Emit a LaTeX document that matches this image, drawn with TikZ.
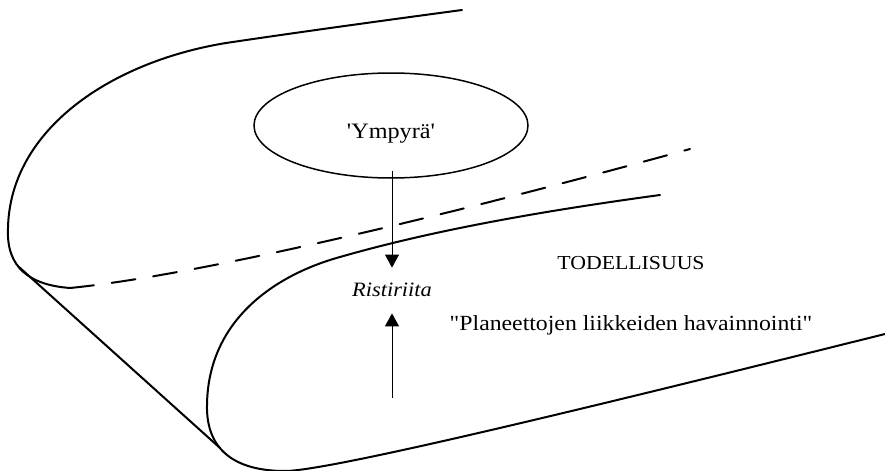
\documentclass[tikz,border=0pt]{standalone}
\usepackage{fontspec}
% straight quotes are kept as typed, so the TeX ligature mapping is switched off
\setmainfont{Liberation Serif}[FakeStretch=1.1, Ligatures=TeXOff]
\usetikzlibrary{arrows.meta,shapes.geometric}

\tikzset{
  edge/.style={line width=1pt, line cap=round, line join=round},
  hidden/.style={edge, dash pattern=on 12pt off 9pt},
  arr/.style={line width=0.5pt, -{Triangle[length=6.5pt,width=7pt]}},
  oval/.style={ellipse, draw, line width=0.75pt, minimum width=137pt, minimum height=52.5pt,
               inner sep=0pt, text height=13pt, text depth=0.2pt},
  lbl/.style={inner sep=0pt, anchor=base}
}

\begin{document}
\begin{tikzpicture}[x=0.5pt,y=-0.5pt]
  \useasboundingbox (0,0) rectangle (885,471);

  % outer sheet: upper edge sweeping round to the left, then its hidden part
  \coordinate (topend) at (462,10);
  \coordinate (fold)   at (70,288);
  \coordinate (backend) at (690,149);
  \draw[edge] (topend) .. controls (380,21) and (300,32) .. (226,43)
        .. controls (110,62) and (10,130) .. (8,228)
        .. controls (6,268) and (30,285) .. (fold);
  \draw[hidden] (fold) .. controls (200,275) and (450,215) .. (backend);

  % front sheet: inner edge curling under and running out to the right
  \coordinate (innerend) at (660,195);
  \coordinate (frontend) at (885,334);
  \draw[edge] (innerend)
        .. controls (520,214) and (420,234) .. (340,257)
        .. controls (275,275) and (208,320) .. (207,405)
        .. controls (206,450) and (235,471) .. (285,471)
        .. controls (330,471) and (600,405) .. (frontend);

  % straight side joining the two sheets
  \coordinate (sidetop) at (19,267);
  \coordinate (sidebot) at (220,448);
  \draw[edge] (sidetop) -- (sidebot);

  % labels
  \node[oval] (ympyra) at (391,125.5) {\fontsize{11}{13}\selectfont 'Ympyrä'};
  \node[inner sep=0pt, text height=14.35pt, text depth=8.15pt] (risti) at (392,290.5)
        {\fontsize{10.2}{12}\selectfont\itshape Ristiriita};
  \node[lbl] (todell) at (631,269.5) {\fontsize{9.9}{12}\selectfont TODELLISUUS};
  \node[lbl] (havainto) at (631,330.5) {\fontsize{10.8}{13}\selectfont "Planeettojen liikkeiden havainnointi"};

  % arrows meeting at the contradiction
  \coordinate (obsfoot) at (392,398);
  \draw[arr] ([yshift=4pt]ympyra.south -| risti.north) -- (risti.north);
  \draw[arr] (obsfoot) -- (risti.south);
\end{tikzpicture}
\end{document}
